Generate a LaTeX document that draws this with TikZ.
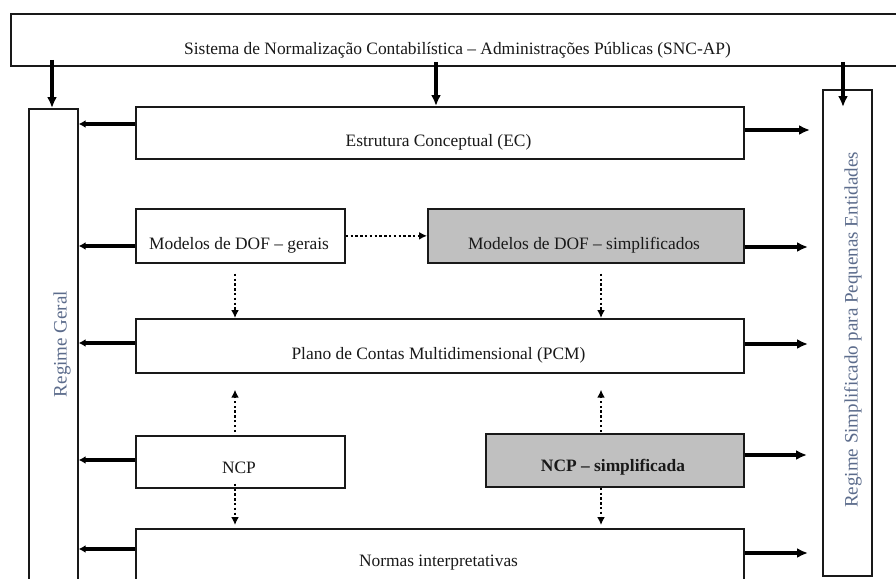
\documentclass[tikz,border=0pt]{standalone}
\usepackage{fontspec}
\setmainfont{Liberation Serif}
\usetikzlibrary{arrows.meta,calc}
\definecolor{boxgray}{RGB}{192,192,192}
\definecolor{vtext}{RGB}{92,108,140}
\begin{document}
\begin{tikzpicture}[x=1pt,y=-1pt,
  box/.style={draw=black!90, line width=1.7pt, rectangle, inner sep=0pt, anchor=north west},
  gbox/.style={box, fill=boxgray},
  txt/.style={inner sep=0pt, text=black!90, font=\fontsize{17.4}{20}\selectfont},
  vtxt/.style={inner sep=0pt, rotate=90, text=vtext, font=\fontsize{19}{22}\selectfont},
  sarr/.style={line width=3.2pt, -{Latex[length=11pt,width=10pt]}},
  larr/.style={line width=3.2pt, -{Latex[length=7pt,width=8pt]}},
  darr/.style={line width=2.6pt, dash pattern=on 2.4pt off 2.4pt, -{Latex[length=8pt,width=8pt]}}
]
\useasboundingbox (0,0) rectangle (896,578);
\clip (0,0) rectangle (896,578);
\fill[white] (0,0) rectangle (896,578);

% boxes
\node[box, minimum width=900pt, minimum height=52pt] (TOP) at (10,13) {};
\node[box, minimum width=49pt, minimum height=520pt] (RG) at (28,108) {};
\node[box, minimum width=49pt, minimum height=486pt] (RS) at (822,89) {};
\node[box, minimum width=608pt, minimum height=52pt] (EC) at (135,106) {};
\node[box, minimum width=209pt, minimum height=54pt] (DG) at (135,208) {};
\node[gbox, minimum width=316pt, minimum height=54pt] (DS) at (427,208) {};
\node[box, minimum width=608pt, minimum height=54pt] (PCM) at (135,318) {};
\node[box, minimum width=209pt, minimum height=52pt] (NCP) at (135,435) {};
\node[gbox, minimum width=258pt, minimum height=53pt] (NCPS) at (485,433) {};
\node[box, minimum width=608pt, minimum height=80pt] (NI) at (135,528) {};

% texts
\node[txt] (tTOP) at (457.5,50) {Sistema de Normalização Contabilística – Administrações Públicas (SNC-AP)};
\node[vtxt] (tRG) at (62,344) {Regime Geral};
\node[vtxt] (tRS) at (853,330) {Regime Simplificado para Pequenas Entidades};
\node[txt] (tEC) at (438.5,142) {Estrutura Conceptual (EC)};
\node[txt] (tDG) at (239,245) {Modelos de DOF – gerais};
\node[txt] (tDS) at (584,245) {Modelos de DOF – simplificados};
\node[txt] (tPCM) at (438.5,355) {Plano de Contas Multidimensional (PCM)};
\node[txt] (tNCP) at (239,468) {NCP};
\node[txt, font=\fontsize{17.4}{20}\selectfont\bfseries] (tNCPS) at (613,467) {NCP – simplificada};
\node[txt] (tNI) at (438.5,563) {Normas interpretativas};

% arrows from top box
\draw[sarr] ($(TOP.north west)+(42,47)$) coordinate (a1) -- (RG.north -| a1);
\draw[sarr] ($(TOP.north west)+(426,49)$) coordinate (a2) -- (EC.north -| a2);
\draw[sarr] ($(TOP.north west)+(833,49)$) coordinate (a3) -- ($(RS.north -| a3)+(0,18)$);

% arrows to Regime Geral
\draw[larr] ($(EC.north west)+(0,18)$) coordinate (b1) -- (RG.east |- b1);
\draw[larr] ($(DG.north west)+(0,38)$) coordinate (b2) -- (RG.east |- b2);
\draw[larr] ($(PCM.north west)+(0,25)$) coordinate (b3) -- (RG.east |- b3);
\draw[larr] ($(NCP.north west)+(0,25)$) coordinate (b4) -- (RG.east |- b4);
\draw[larr] ($(NI.north west)+(0,21)$) coordinate (b5) -- (RG.east |- b5);

% arrows to the right
\draw[sarr] ($(EC.north east)+(0,24)$) coordinate (c1) -- ($(RS.west |- c1)+(-12,0)$);
\draw[sarr] ($(DS.north east)+(0,39)$) coordinate (c2) -- ($(RS.west |- c2)+(-14,0)$);
\draw[sarr] ($(PCM.north east)+(0,26)$) coordinate (c3) -- ($(RS.west |- c3)+(-14,0)$);
\draw[sarr] ($(NCPS.north east)+(0,22)$) coordinate (c4) -- ($(RS.west |- c4)+(-15,0)$);
\draw[sarr] ($(NI.north east)+(0,25)$) coordinate (c5) -- ($(RS.west |- c5)+(-14,0)$);

% dotted arrows
\draw[darr] (DG.east) -- (DS.west);
\draw[darr] ($(DG.south west)+(100,10)$) coordinate (d1) -- (PCM.north -| d1);
\draw[darr] ($(DS.south west)+(174,10)$) coordinate (d2) -- (PCM.north -| d2);
\draw[darr] ($(NCP.north west)+(100,-3)$) coordinate (d3) -- ($(PCM.south -| d3)+(0,16)$);
\draw[darr] ($(NCPS.north west)+(116,-1)$) coordinate (d4) -- ($(PCM.south -| d4)+(0,16)$);
\draw[darr] ($(NCP.south west)+(100,-5)$) coordinate (d5) -- ($(NI.north -| d5)+(0,-3)$);
\draw[darr] ($(NCPS.south west)+(116,0)$) coordinate (d6) -- ($(NI.north -| d6)+(0,-3)$);
\end{tikzpicture}
\end{document}
